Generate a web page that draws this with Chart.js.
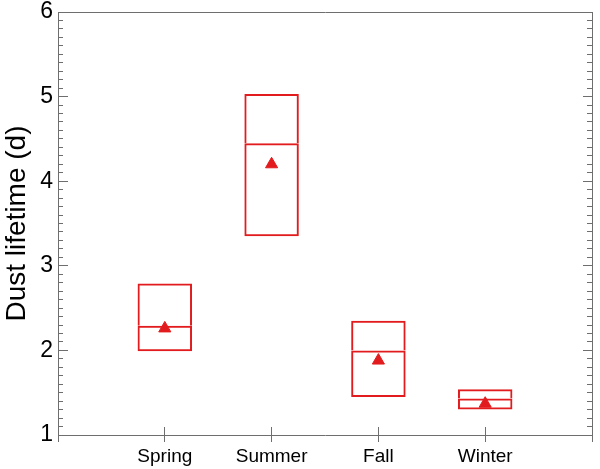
<!DOCTYPE html>
<html>
<head>
<meta charset="utf-8">
<script src="https://cdn.jsdelivr.net/npm/chart.js@4.4.0/dist/chart.umd.min.js"></script>
<style>
    body { margin: 0; background: #fff; }
</style>
</head>
<body>
<canvas id="chart" width="600" height="469"></canvas>
<script>
// empty slots at both ends give the axis room on the left and right
const seasons = ['', 'Spring', 'Summer', 'Fall', 'Winter', ''];
const q1 = [null, 1.99, 3.35, 1.45, 1.30, null];
const median = [null, 2.29, 4.45, 2.00, 1.43, null];
const q3 = [null, 2.79, 5.03, 2.35, 1.54, null];
const mean = [null, 2.26, 4.20, 1.88, 1.37, null];

const red = 'rgb(226,28,30)';
const axisColor = '#6e6e6e';

Chart.defaults.font.family = "'Liberation Sans', Arial, sans-serif";
Chart.defaults.color = '#000';

// box is split at the median so the median line comes from the data
let lowerHalf = seasons.map((s, i) => q1[i] == null ? null : [q1[i], median[i]]);
let upperHalf = seasons.map((s, i) => q3[i] == null ? null : [median[i], q3[i]]);

let boxStyle = {
    type: 'bar',
    xAxisID: 'x',
    yAxisID: 'y',
    grouped: false,
    categoryPercentage: 1,
    barPercentage: 0.51,
    backgroundColor: 'rgba(0,0,0,0)',
    borderColor: red,
    borderSkipped: false,
    order: 1
};

let datasets = [
    Object.assign({}, boxStyle, {
        label: 'lower',
        data: lowerHalf,
        borderWidth: { top: 2, bottom: 2, left: 2, right: 2 }
    }),
    Object.assign({}, boxStyle, {
        label: 'upper',
        data: upperHalf,
        borderWidth: { top: 2, bottom: 0, left: 2, right: 2 }
    }),
    {
        type: 'line',
        label: 'mean',
        data: mean,
        xAxisID: 'x',
        yAxisID: 'y',
        showLine: false,
        pointStyle: 'triangle',
        pointRadius: 7,
        pointHoverRadius: 7,
        pointBackgroundColor: red,
        pointBorderColor: red,
        pointBorderWidth: 1,
        order: 0
    }
];

// no extra room for the first/last labels, the frame is fixed
function noPadding(s) {
    s.paddingTop = 0;
    s.paddingBottom = 0;
    s.paddingLeft = 0;
    s.paddingRight = 0;
}

// ticks drawn inward use a negative tick length; minor ticks live on zero-width axes
function minorAxis(position) {
    return {
        type: 'linear',
        position: position,
        weight: 0,
        min: 1,
        max: 6,
        ticks: { display: false, stepSize: 0.1 },
        grid: { drawOnChartArea: false, tickLength: -5, tickColor: axisColor, tickWidth: 1 },
        border: { display: false },
        afterFit: s => { s.width = 0; noPadding(s); }
    };
}

const config = {
    data: {
        labels: seasons,
        datasets: datasets
    },
    options: {
        responsive: false,
        animation: false,
        layout: { padding: 0 },
        plugins: {
            legend: { display: false },
            tooltip: { enabled: false }
        },
        scales: {
            x: {
                type: 'category',
                position: 'bottom',
                weight: 1,
                offset: false,
                grid: { offset: false, drawOnChartArea: false, tickLength: 7, tickColor: axisColor, tickWidth: 1 },
                border: { display: true, color: axisColor, width: 1 },
                ticks: { font: { size: 19 }, padding: 3, autoSkip: false, maxRotation: 0 },
                afterFit: s => { s.height = 34; noPadding(s); }
            },
            xIn: {
                type: 'category',
                position: 'bottom',
                weight: 0,
                offset: false,
                grid: { offset: false, drawOnChartArea: false, tickLength: -8, tickColor: axisColor, tickWidth: 1 },
                border: { display: false },
                ticks: { display: false },
                afterFit: s => { s.height = 0; noPadding(s); }
            },
            xTop: {
                type: 'category',
                position: 'top',
                offset: false,
                grid: { offset: false, drawOnChartArea: false, drawTicks: false },
                border: { display: true, color: axisColor, width: 1 },
                ticks: { display: false },
                afterFit: s => { s.height = 12; noPadding(s); }
            },
            y: {
                type: 'linear',
                position: 'left',
                weight: 1,
                min: 1,
                max: 6,
                ticks: { stepSize: 1, font: { size: 23 }, padding: 15 },
                grid: { drawOnChartArea: false, tickLength: -10, tickColor: axisColor, tickWidth: 1 },
                border: { display: true, color: axisColor, width: 1 },
                title: {
                    display: true,
                    text: 'Dust lifetime (d)',
                    font: { size: 28 },
                    padding: { top: 0, bottom: 0 }
                },
                afterFit: s => { s.width = 58; noPadding(s); }
            },
            yMinor: minorAxis('left'),
            yR: {
                type: 'linear',
                position: 'right',
                weight: 1,
                min: 1,
                max: 6,
                ticks: { display: false, stepSize: 1 },
                grid: { drawOnChartArea: false, tickLength: -9, tickColor: axisColor, tickWidth: 1 },
                border: { display: true, color: axisColor, width: 1 },
                afterFit: s => { s.width = 6; noPadding(s); }
            },
            yRMinor: minorAxis('right')
        }
    }
};

const chart = new Chart(document.getElementById('chart'), config);
</script>
</body>
</html>
